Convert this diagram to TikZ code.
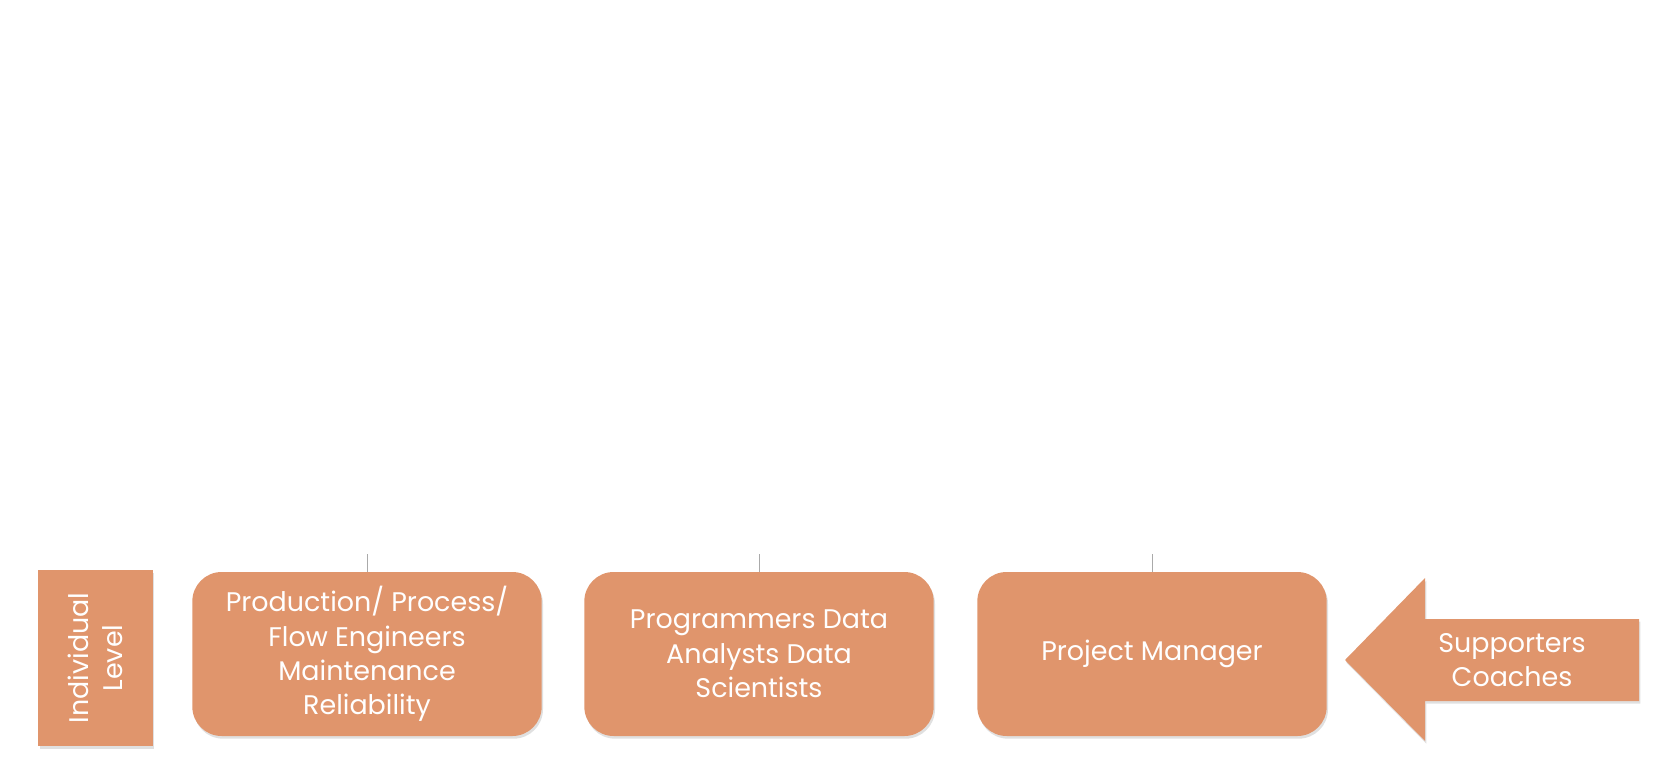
\documentclass[tikz,border=0pt]{standalone}
\usepackage{fontspec}
\setmainfont{Poppins}
\usetikzlibrary{shadows}
\definecolor{boxor}{RGB}{224,149,108}
\definecolor{linegr}{RGB}{170,170,170}
\tikzset{
  px/.style={x=0.75pt,y=-0.75pt},
  card/.style={fill=boxor,draw=none,rounded corners=22pt,minimum width=262pt,minimum height=123pt,
    align=center,text=white,font=\fontsize{20.2}{25.8}\selectfont,inner sep=0pt,
    drop shadow={shadow xshift=1pt,shadow yshift=-2pt,opacity=0.2,fill=black!60}},
  lvl/.style={fill=boxor,draw=none,minimum width=86pt,minimum height=132pt,inner sep=0pt,
    drop shadow={shadow xshift=1pt,shadow yshift=-2pt,opacity=0.2,fill=black!60}},
  txt/.style={text=white,align=center,font=\fontsize{20.2}{25.8}\selectfont},
  tick/.style={draw=linegr,line width=0.6pt}
}
\begin{document}
\begin{tikzpicture}[px]
\useasboundingbox (0,0) rectangle (1663,767);
\node[lvl] (lvl) at (95.5,658) {};
\node[txt,rotate=90] (lvltxt) at (lvl.center) {Individual\\Level};
\node[card] (b1) at (367,654) {Production/ Process/\\Flow Engineers\\Maintenance\\Reliability};
\node[card] (b2) at (759,654) {Programmers Data\\Analysts Data\\Scientists};
\node[card] (b3) at (1152,654) {Project Manager};
\coordinate (t1) at (367,554);
\coordinate (t2) at (759,554);
\coordinate (t3) at (1152,554);
\draw[tick] (t1) -- (b1.north);
\draw[tick] (t2) -- (b2.north);
\draw[tick] (t3) -- (b3.north);
\path[fill=boxor,drop shadow={shadow xshift=1pt,shadow yshift=-2pt,opacity=0.2,fill=black!60}]
  (1345,660) -- (1425,578) -- (1425,619) -- (1639,619) -- (1639,701) -- (1425,701) -- (1425,741) -- cycle;
\node[txt] (sup) at (1512,660) {Supporters\\Coaches};
\end{tikzpicture}
\end{document}
